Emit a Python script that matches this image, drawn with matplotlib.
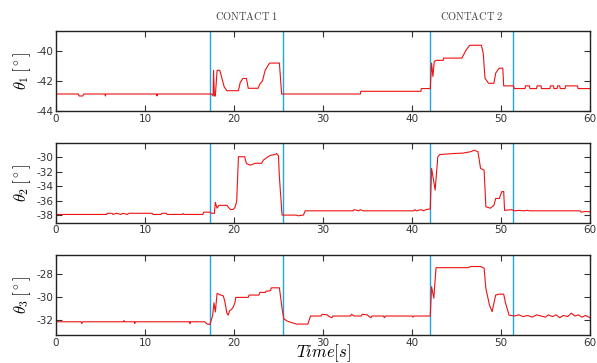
import numpy as np
import matplotlib
matplotlib.use('Agg')
import matplotlib.pyplot as plt
import matplotlib.transforms as mtrans

plt.rcParams['mathtext.fontset'] = 'cm'
plt.rcParams['axes.unicode_minus'] = False

# contact instants [s]
contact_lines = [17.3, 25.5, 42.05, 51.4]
contact_names = ['CONTACT 1', 'CONTACT 2']

# theta 1 trace (knots)
t1 = [0.0, 2.5, 2.6, 3.0, 3.1, 5.5, 5.55, 5.6, 11.3, 11.35, 11.4,
      17.5, 17.65, 17.7, 17.8, 17.9, 18.1, 18.2, 18.4,
      18.9, 19.2, 20.5, 20.7, 21.0, 21.4, 21.6, 22.7, 22.9, 23.2,
      23.5, 23.8, 24.0, 25.1, 25.35,
      34.2, 34.25, 41.0, 41.05, 42.05,
      42.2, 42.35, 42.5, 42.7, 43.5, 43.55, 45.6, 45.8, 46.1, 46.5,
      47.8, 48.0, 48.2, 48.6, 49.2, 49.4, 49.8, 50.2, 50.3, 51.4, 51.5,
      52.7, 52.75, 53.2, 53.25, 54.0, 54.05, 54.5, 54.55, 55.5, 55.55,
      55.9, 55.95, 56.3, 56.35, 56.6, 56.65, 57.2, 57.25, 58.6, 58.65, 60.0]
v1 = [-42.87, -42.87, -43.0, -43.0, -42.87, -42.87, -43.0, -42.87, -42.87, -43.0, -42.87,
      -42.87, -43.0, -41.3, -43.0, -43.0, -41.3, -41.3, -41.3,
      -42.4, -42.65, -42.65, -42.1, -41.84, -41.84, -42.49, -42.49, -42.22, -42.0,
      -41.3, -41.0, -40.82, -40.82, -42.87,
      -42.87, -42.69, -42.69, -42.51, -42.51,
      -40.82, -41.71, -40.71, -40.64, -40.64, -40.49, -40.49, -40.27, -39.93, -39.64,
      -39.64, -40.16, -41.82, -42.16, -42.16, -41.49, -41.16, -41.16, -42.33, -42.33, -42.51,
      -42.51, -42.33, -42.33, -42.51, -42.51, -42.33, -42.33, -42.51, -42.51, -42.33,
      -42.33, -42.51, -42.51, -42.33, -42.33, -42.51, -42.51, -42.33, -42.33, -42.51, -42.51]

# theta 2 trace
t2 = [0.0, 5.7, 5.75, 6.3, 6.4, 6.8, 7.3, 7.5, 8.0, 8.2, 10.8, 10.9,
      11.8, 11.9, 12.4, 12.5, 14.2, 14.3, 14.4, 16.5, 16.6, 17.3,
      17.5, 17.8, 17.9, 18.1, 18.3, 19.2, 19.4, 19.6, 19.9, 20.1, 20.3,
      20.5, 21.2, 21.4, 21.8, 22.4, 23.1, 23.3, 23.7, 24.1, 24.6, 24.8,
      25.0, 25.1, 25.4, 27.0, 27.2, 27.8, 28.0,
      33.4, 33.5, 34.0, 34.2, 34.5, 40.2, 40.3, 40.5, 41.0, 41.3, 41.6, 42.05,
      42.2, 42.6, 42.9, 43.1, 44.7, 45.7, 46.6, 47.0, 47.4, 47.5, 47.7,
      48.1, 48.3, 48.8, 49.2, 49.4, 49.8, 50.1, 50.3, 50.4, 51.2, 51.5,
      52.0, 52.5, 53.0, 53.2, 58.9, 59.0, 59.5, 60.0]
v2 = [-37.86, -37.86, -37.7, -37.7, -37.86, -37.7, -37.86, -37.7, -37.86, -37.7, -37.7, -37.86,
      -37.86, -37.7, -37.7, -37.86, -37.86, -37.75, -37.86, -37.86, -37.55, -37.55,
      -37.7, -37.7, -36.2, -37.0, -36.6, -36.6, -36.9, -37.18, -37.18, -36.9, -36.1,
      -29.9, -29.9, -30.83, -31.06, -30.8, -30.8, -30.37, -30.0, -29.7, -29.6, -29.45,
      -29.8, -32.7, -37.95, -37.95, -38.05, -37.95, -37.36,
      -37.36, -37.2, -37.36, -37.2, -37.36, -37.36, -37.2, -37.36, -37.2, -37.36, -37.18, -37.1,
      -31.5, -34.5, -29.9, -29.6, -29.45, -29.4, -29.2, -29.0, -29.2, -29.9, -31.5,
      -31.75, -36.8, -37.0, -36.6, -35.66, -35.66, -34.7, -34.7, -37.3, -37.2, -37.36,
      -37.3, -37.36, -37.3, -37.36, -37.36, -37.55, -37.45, -37.5]

# theta 3 trace
t3 = [0.0, 2.8, 2.9, 3.0, 7.6, 7.65, 7.7, 8.8, 8.85, 8.9, 15.0, 15.05, 15.1,
      16.7, 17.0, 17.3, 17.6, 17.75, 17.9, 18.1, 18.4, 18.8, 19.0, 19.2,
      19.35, 19.5, 19.7, 19.9, 20.1, 20.2, 21.6, 21.7, 22.8, 22.9, 23.5,
      23.6, 24.1, 24.2, 25.1, 25.4, 25.6, 26.0, 26.4, 27.0, 28.3,
      28.6, 29.8, 29.9, 30.5, 30.6, 31.0, 31.1, 33.1, 33.2, 33.5, 34.3,
      34.4, 35.0, 35.1, 35.4, 35.5, 36.8, 36.9, 37.0, 40.0, 40.1, 40.2, 42.05,
      42.2, 42.45, 42.7, 46.3, 46.6, 47.7, 48.1, 48.3, 48.7, 49.0, 49.1,
      49.4, 49.8, 50.3, 50.5, 50.9, 51.5, 52.0, 52.5, 53.0, 53.5, 54.0,
      54.5, 55.0, 55.3, 55.8, 56.2, 56.6, 57.0, 57.5, 57.9, 58.3, 58.7,
      59.1, 59.5, 60.0]
v3 = [-32.15, -32.15, -32.3, -32.15, -32.15, -32.05, -32.15, -32.15, -32.3, -32.15, -32.15, -32.3, -32.15,
      -32.15, -32.35, -32.38, -31.6, -30.5, -31.3, -29.68, -29.8, -29.9, -30.5, -31.4,
      -31.57, -31.2, -31.1, -30.9, -30.5, -30.03, -30.03, -29.83, -29.83, -29.6, -29.6,
      -29.5, -29.45, -29.2, -29.2, -31.0, -31.9, -32.1, -32.2, -32.35, -32.35,
      -31.65, -31.65, -31.5, -31.55, -31.65, -31.8, -31.65, -31.65, -31.5, -31.65, -31.65,
      -31.5, -31.55, -31.65, -31.8, -31.65, -31.65, -31.8, -31.65, -31.65, -31.75, -31.65, -31.65,
      -29.1, -30.1, -27.45, -27.45, -27.35, -27.35, -27.5, -29.25, -30.7, -31.27, -30.9,
      -29.83, -29.75, -29.75, -30.5, -31.57, -31.65, -31.55, -31.7, -31.6, -31.75, -31.55,
      -31.65, -31.75, -31.55, -31.7, -31.55, -31.8, -31.6, -31.7, -31.4, -31.65, -31.55,
      -31.75, -31.6, -31.8]

traces = [(t1, v1), (t2, v2), (t3, v3)]
ylims = [(-44, -38.7), (-39, -28), (-33.3, -26.35)]
yticks = [[-44, -42, -40], [-38, -36, -34, -32, -30], [-32, -30, -28]]
ylabels = [r'$\theta_1\,[^\circ]$', r'$\theta_2\,[^\circ]$', r'$\theta_3\,[^\circ]$']

fig = plt.figure(figsize=(5.97, 3.63), dpi=100)
# axes boxes in figure fractions (left, bottom, width, height)
boxes = [[0.0938, 0.694, 0.8945, 0.2204],
         [0.0938, 0.3865, 0.8945, 0.2196],
         [0.0938, 0.0771, 0.8945, 0.2204]]

axes = []
for i in range(3):
    ax = fig.add_axes(boxes[i])
    t, v = traces[i]
    for xc in contact_lines:
        ax.axvline(xc, color='#1ea7e4', lw=1.0, zorder=1)
    ax.plot(t, v, color='#ee1111', lw=0.8, zorder=2)
    ax.set_xlim(0, 60)
    ax.set_ylim(*ylims[i])
    ax.set_xticks(np.arange(0, 61, 10))
    ax.set_yticks(yticks[i])
    ax.tick_params(direction='in', top=True, right=True, length=4,
                   labelsize=7.5, pad=2, colors='#333333')
    for sp in ax.spines.values():
        sp.set_linewidth(1.0)
        sp.set_color('#222222')
    ax.set_ylabel(ylabels[i], fontsize=12, labelpad=2)
    axes.append(ax)

# contact captions above first panel
trans = mtrans.blended_transform_factory(axes[0].transData, axes[0].transAxes)
axes[0].text((contact_lines[0] + contact_lines[1]) / 2, 1.19, r'$\mathrm{CONTACT\ 1}$',
             transform=trans, ha='center', va='center', fontsize=7.5, color='#444444')
axes[0].text((contact_lines[2] + contact_lines[3]) / 2, 1.19, r'$\mathrm{CONTACT\ 2}$',
             transform=trans, ha='center', va='center', fontsize=7.5, color='#444444')

axes[2].set_xlabel(r'$Time[s]$', fontsize=12, labelpad=-4)

fig.savefig('out.png', dpi=100)
